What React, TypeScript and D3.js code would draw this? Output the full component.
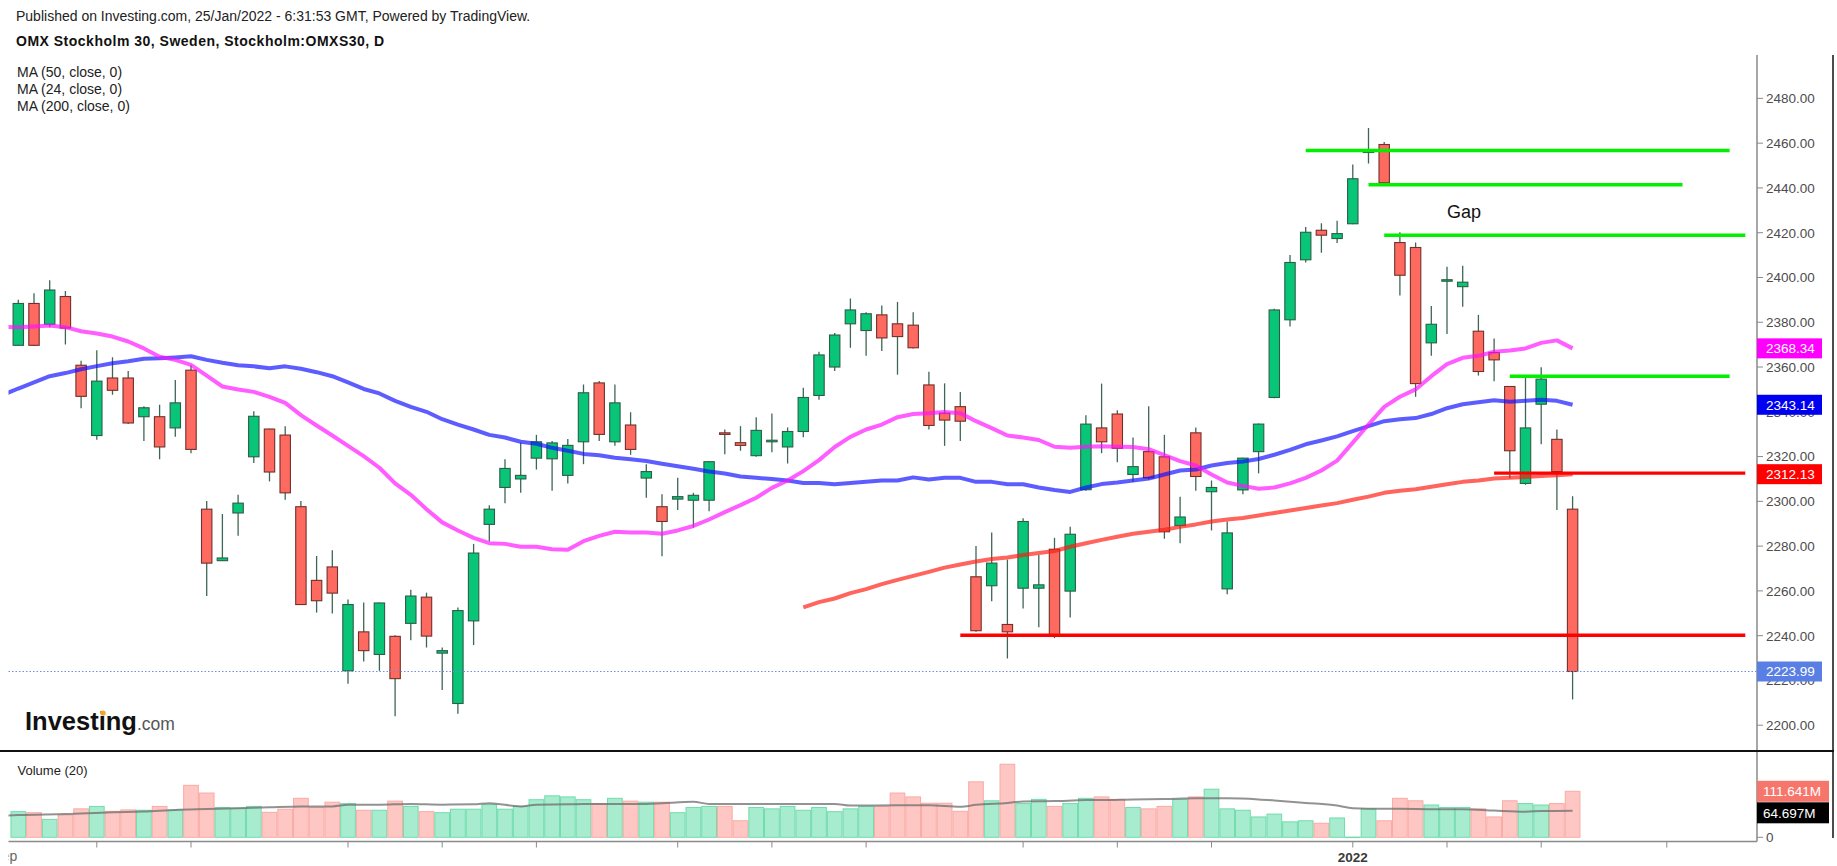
import React, { useEffect, useRef } from "react";
import * as d3 from "d3";

// OMX Stockholm 30, daily candles, 2 Sep 2021 - 24 Jan 2022 (index 0..99)
const opens = [
  2369.7, 2388.4, 2379.1, 2391.5, 2360.8, 2329.4, 2355.1, 2355.1, 2337.8, 2337.8,
  2332.8, 2358.6, 2296.5, 2273.5, 2294.8, 2319.9, 2332.3, 2329.6, 2297.6, 2264.7,
  2270.7, 2224.3, 2241.7, 2231.6, 2239.7, 2245.5, 2257.2, 2232.2, 2209.7, 2246.6,
  2289.7, 2306.2, 2310.0, 2319.3, 2319.0, 2311.6, 2326.6, 2352.9, 2326.6, 2334.1,
  2310.4, 2297.6, 2301.0, 2300.5, 2300.5, 2330.6, 2326.2, 2320.4, 2326.6, 2324.3,
  2331.2, 2347.3, 2360.0, 2379.3, 2376.3, 2383.3, 2379.3, 2378.7, 2352.0, 2339.4,
  2342.3, 2266.3, 2262.3, 2245.0, 2261.2, 2261.2, 2278.6, 2259.9, 2305.2, 2332.8,
  2339.0, 2312.0, 2322.2, 2319.9, 2289.2, 2330.6, 2304.3, 2260.9, 2305.1, 2322.2,
  2346.4, 2381.1, 2407.9, 2421.1, 2417.4, 2424.0, 2456.0, 2459.4, 2415.6, 2413.4,
  2370.8, 2398.6, 2395.9, 2376.0, 2366.5, 2351.3, 2308.0, 2343.4, 2327.7, 2296.5,
];
const highs = [
  2390.0, 2393.0, 2398.8, 2394.0, 2362.8, 2367.5, 2364.4, 2358.2, 2342.5, 2343.1,
  2354.2, 2360.8, 2300.1, 2294.3, 2302.9, 2340.3, 2332.5, 2333.6, 2300.1, 2275.6,
  2278.2, 2256.1, 2254.8, 2254.8, 2240.2, 2260.5, 2259.2, 2234.7, 2252.6, 2281.0,
  2298.3, 2318.8, 2326.2, 2329.7, 2327.0, 2327.9, 2352.2, 2353.8, 2352.2, 2339.8,
  2316.6, 2303.2, 2310.5, 2303.8, 2318.0, 2332.1, 2333.6, 2337.6, 2339.2, 2333.0,
  2350.7, 2366.8, 2375.2, 2390.6, 2384.5, 2387.5, 2389.1, 2384.5, 2357.9, 2352.7,
  2348.9, 2280.0, 2286.1, 2274.0, 2292.5, 2276.0, 2283.7, 2288.6, 2338.5, 2352.6,
  2340.7, 2328.5, 2342.5, 2329.7, 2302.1, 2333.0, 2309.3, 2291.0, 2319.5, 2334.8,
  2386.0, 2410.1, 2422.5, 2424.2, 2425.3, 2450.5, 2466.8, 2460.5, 2420.2, 2415.6,
  2387.3, 2404.8, 2405.2, 2383.3, 2372.7, 2351.5, 2355.3, 2359.9, 2332.1, 2302.3,
];
const lows = [
  2369.4, 2369.4, 2377.8, 2370.1, 2341.6, 2327.5, 2347.6, 2334.5, 2327.0, 2318.8,
  2328.8, 2321.5, 2257.7, 2273.3, 2284.6, 2317.1, 2308.9, 2300.7, 2253.7, 2250.3,
  2249.9, 2218.5, 2228.5, 2224.3, 2204.0, 2238.0, 2234.7, 2215.7, 2205.1, 2235.8,
  2282.2, 2299.2, 2303.8, 2314.2, 2304.7, 2308.0, 2316.6, 2327.0, 2324.8, 2320.8,
  2301.6, 2275.5, 2296.1, 2288.3, 2295.6, 2321.0, 2322.6, 2319.9, 2321.9, 2316.9,
  2328.6, 2345.4, 2358.2, 2368.6, 2365.0, 2367.2, 2356.6, 2368.3, 2332.1, 2324.8,
  2327.0, 2241.7, 2255.4, 2229.8, 2252.1, 2243.7, 2238.9, 2248.1, 2304.7, 2321.5,
  2317.5, 2308.7, 2309.8, 2283.3, 2281.3, 2304.7, 2287.0, 2258.5, 2303.2, 2312.5,
  2346.0, 2378.1, 2406.7, 2411.0, 2415.4, 2423.8, 2450.9, 2442.0, 2392.0, 2346.7,
  2365.0, 2374.7, 2386.9, 2356.2, 2353.7, 2310.2, 2307.4, 2325.5, 2296.1, 2211.5,
];
const closes = [
  2388.4, 2369.7, 2394.4, 2377.4, 2346.9, 2353.7, 2349.6, 2335.0, 2341.8, 2324.3,
  2344.0, 2323.2, 2272.4, 2274.7, 2299.2, 2338.0, 2313.1, 2303.8, 2253.9, 2255.6,
  2259.0, 2253.9, 2233.3, 2254.6, 2220.8, 2257.7, 2239.8, 2233.3, 2251.2, 2276.9,
  2296.5, 2314.7, 2311.6, 2326.6, 2326.1, 2325.0, 2348.5, 2329.9, 2344.0, 2323.2,
  2313.3, 2291.0, 2302.1, 2302.7, 2317.7, 2329.9, 2325.0, 2331.7, 2327.3, 2331.2,
  2346.4, 2365.4, 2374.3, 2385.5, 2383.8, 2373.0, 2373.6, 2368.6, 2333.9, 2336.3,
  2335.8, 2242.2, 2272.4, 2241.7, 2291.0, 2262.7, 2240.4, 2285.3, 2334.5, 2326.6,
  2323.7, 2315.5, 2310.5, 2286.4, 2293.0, 2311.1, 2306.2, 2285.9, 2319.3, 2334.5,
  2385.5, 2406.7, 2420.2, 2418.9, 2419.6, 2444.1, 2456.5, 2442.3, 2401.0, 2352.6,
  2379.1, 2399.0, 2397.9, 2358.0, 2363.2, 2322.6, 2332.8, 2354.6, 2313.3, 2223.99,
];
// volume in millions
const volumes = [
  62.2, 59.7, 43.5, 53.7, 69.0, 75.0, 63.1, 66.5, 65.6, 75.0,
  66.5, 126.1, 107.4, 72.4, 70.7, 75.0, 60.5, 68.2, 94.6, 72.4,
  85.2, 81.8, 65.6, 65.6, 87.8, 75.0, 62.2, 59.7, 68.2, 68.2,
  79.3, 68.2, 75.0, 91.2, 100.6, 98.0, 91.2, 81.8, 94.6, 87.8,
  85.2, 85.2, 59.7, 72.4, 75.0, 75.0, 40.1, 72.4, 69.0, 75.0,
  65.6, 72.4, 62.2, 69.0, 75.0, 75.0, 107.4, 98.0, 82.7, 82.7,
  63.1, 134.6, 88.6, 177.3, 81.8, 92.0, 75.0, 81.8, 94.6, 98.0,
  92.0, 72.4, 69.0, 75.0, 92.0, 98.0, 116.7, 69.0, 65.6, 49.4,
  56.2, 37.5, 40.1, 34.1, 46.9, 0.5, 69.0, 40.1, 94.6, 88.6,
  78.4, 72.4, 72.4, 69.0, 49.4, 88.6, 81.8, 78.4, 81.8, 111.641,
];

// moving averages as shown (start index given for each)
const ma50Start = -1;
const ma50 = [
  2347.5, 2350.4, 2353.1, 2355.9, 2357.3, 2359.0, 2360.4, 2361.7, 2362.6, 2363.7,
  2363.9, 2364.3, 2364.8, 2363.2, 2361.9, 2360.8, 2360.3, 2359.5, 2360.3, 2359.2,
  2357.7, 2355.9, 2353.1, 2350.2, 2348.2, 2344.9, 2342.2, 2340.0, 2336.7, 2334.3,
  2332.1, 2329.7, 2328.5, 2326.6, 2325.7, 2323.9, 2322.6, 2321.2, 2320.6, 2319.5,
  2318.8, 2318.0, 2316.8, 2315.7, 2314.6, 2313.3, 2312.4, 2311.1, 2310.5, 2310.0,
  2309.3, 2308.2, 2308.2, 2307.6, 2308.2, 2308.7, 2309.3, 2309.3, 2310.7, 2309.8,
  2310.5, 2310.5, 2308.7, 2308.7, 2307.6, 2307.6, 2306.2, 2305.1, 2304.2, 2306.2,
  2307.7, 2308.4, 2309.3, 2310.2, 2312.0, 2313.8, 2314.2, 2316.0, 2317.1, 2317.8,
  2318.9, 2320.8, 2323.0, 2325.5, 2327.2, 2329.0, 2331.4, 2333.6, 2335.8, 2336.7,
  2337.2, 2339.0, 2341.6, 2343.4, 2344.3, 2345.2, 2344.5, 2344.9, 2345.4, 2344.9,
  2343.14,
];
const ma24Start = -1;
const ma24 = [
  2378.0, 2377.8, 2378.1, 2378.5, 2377.8, 2376.0, 2375.0, 2373.6, 2371.4, 2368.3,
  2364.6, 2363.2, 2361.0, 2356.2, 2351.3, 2350.0, 2348.9, 2346.7, 2344.0, 2338.5,
  2333.9, 2329.4, 2324.8, 2320.2, 2315.0, 2308.0, 2302.9, 2296.5, 2290.6, 2287.0,
  2283.7, 2281.3, 2281.0, 2279.7, 2279.7, 2278.6, 2278.4, 2282.2, 2284.6, 2286.4,
  2286.1, 2286.1, 2285.5, 2287.0, 2289.0, 2291.9, 2295.2, 2298.3, 2301.6, 2306.0,
  2309.3, 2313.5, 2318.4, 2324.3, 2328.8, 2332.1, 2334.3, 2337.6, 2339.0, 2339.4,
  2339.9, 2339.4, 2335.8, 2332.7, 2329.4, 2328.5, 2327.4, 2324.4, 2323.9, 2324.4,
  2324.6, 2324.4, 2324.3, 2323.3, 2320.6, 2318.0, 2316.0, 2312.0, 2308.4, 2306.9,
  2305.6, 2306.2, 2308.0, 2310.5, 2313.8, 2318.2, 2326.2, 2334.3, 2342.2, 2346.7,
  2350.0, 2355.9, 2361.3, 2364.1, 2365.0, 2366.8, 2367.4, 2368.3, 2370.8, 2371.9,
  2368.34,
];
const ma200Start = 50;
const ma200 = [
  2252.6, 2255.0, 2256.6, 2259.0, 2260.8, 2263.0, 2264.9, 2266.7, 2268.5, 2270.4,
  2271.8, 2273.1, 2274.2, 2274.9, 2276.0, 2276.9, 2277.8, 2279.7, 2281.3, 2282.8,
  2284.2, 2285.5, 2286.4, 2287.3, 2288.6, 2289.7, 2291.0, 2291.9, 2292.6, 2293.7,
  2294.8, 2295.9, 2297.0, 2298.1, 2299.2, 2300.7, 2302.1, 2303.8, 2304.7, 2305.4,
  2306.5, 2307.6, 2308.7, 2309.3, 2310.2, 2310.5, 2310.9, 2311.3, 2311.6, 2312.13,
];
// volume MA(20), read at these candle indices
const volMaIdx = [
  -1, 0, 3, 6, 8, 10, 12, 14, 16, 18, 20, 21, 23, 25, 27, 29, 30, 32, 33, 35,
  36, 40, 41, 43, 44, 52, 53, 56, 58, 60, 61, 63, 64, 66, 68, 69, 71, 73, 75, 77,
  79, 80, 82, 84, 85, 87, 88, 90, 92, 94, 96, 97, 99,
];
const volMa = [
  52.0, 54.0, 56.5, 61.0, 62.5, 66.5, 68.5, 70.5, 73.0, 75.0, 75.0, 79.0, 79.3, 81.0, 79.3, 80.0, 82.7, 75.0, 79.3, 80.1,
  81.0, 81.0, 82.7, 86.1, 81.0, 81.0, 77.0, 77.5, 77.5, 74.1, 79.0, 83.5, 87.0, 87.8, 90.3, 90.3, 92.0, 92.9, 94.6, 94.6,
  92.0, 89.5, 83.5, 77.0, 70.7, 69.0, 69.0, 68.2, 68.2, 64.8, 62.2, 63.9, 64.697,
];

// drawn levels: price and the candle indices they run between
const greenLevels = [2456.7, 2441.4, 2418.9, 2355.9];
const greenFrom = [82, 86, 87, 95];
const greenTo = [109, 106, 110, 109];
const redLevels = [2312.6, 2240.2];
const redFrom = [94, 60];
const redTo = [110, 110];
const gapNote = { text: "Gap", index: 91, price: 2426.6 };

// time axis marks (candle index) and their labels
const timeTicks = [5, 11, 21, 27, 33, 42, 48, 54, 64, 70, 76, 85, 91, 97, 105];
const timeLabels = ["", "", "", "", "", "", "", "", "", "", "", "2022", "", "", ""];

const maLegend = ["MA (50, close, 0)", "MA (24, close, 0)", "MA (200, close, 0)"];

const FONT = "'Liberation Sans', Arial, Helvetica, sans-serif";
const W = 1837;
const H = 866;

export default function App() {
  const svgRef = useRef<SVGSVGElement>(null);

  useEffect(() => {
    if (!svgRef.current) return;
    const svg = d3.select(svgRef.current);
    svg.selectAll("*").remove();

    const plotLeft = 8.5;
    const axisX = 1757;
    const mainTop = 55;
    const mainBottom = 751;
    const volBottom = 841.5;

    const x = d3.scaleLinear().domain([0, 99]).range([18.3, 1572.6]);
    const y = d3.scaleLinear().domain([2200, 2480]).range([725.2, 98.4]);
    const v = d3.scaleLinear().domain([0, 111.641]).range([837.3, 791.3]);

    const defs = svg.append("defs");
    defs.append("clipPath").attr("id", "mainClip").append("rect")
      .attr("x", plotLeft).attr("y", mainTop)
      .attr("width", axisX - plotLeft).attr("height", mainBottom - mainTop);
    defs.append("clipPath").attr("id", "volClip").append("rect")
      .attr("x", plotLeft).attr("y", mainBottom + 1)
      .attr("width", axisX - plotLeft).attr("height", volBottom - mainBottom - 1);
    defs.append("clipPath").attr("id", "timeClip").append("rect")
      .attr("x", plotLeft).attr("y", volBottom)
      .attr("width", axisX - plotLeft).attr("height", H - volBottom);

    svg.append("rect").attr("width", W).attr("height", H).attr("fill", "#fff");

    const idx = d3.range(closes.length);
    const up = (i: number) => closes[i] >= opens[i];

    // volume pane
    const vg = svg.append("g").attr("clip-path", "url(#volClip)");
    const bw = x(1) - x(0);
    vg.selectAll("rect.vol")
      .data(idx)
      .join("rect")
      .attr("x", (i) => x(i) - bw / 2 + 0.5)
      .attr("width", bw - 1)
      .attr("y", (i) => v(volumes[i]))
      .attr("height", (i) => Math.max(0.5, v(0) - v(volumes[i])))
      .attr("fill", (i) => (up(i) ? "#a8ecd0" : "#ffc7c3"))
      .attr("stroke", (i) => (up(i) ? "#6fdcab" : "#f9aaa4"))
      .attr("stroke-width", 1);

    const volLine = d3
      .line<number>()
      .x((_, k) => x(volMaIdx[k]))
      .y((d) => v(d))
      .curve(d3.curveMonotoneX);
    vg.append("path")
      .datum(volMa)
      .attr("d", volLine)
      .attr("fill", "none")
      .attr("stroke", "#6e6e6e")
      .attr("stroke-opacity", 0.75)
      .attr("stroke-width", 2);

    // candles
    const cg = svg.append("g").attr("clip-path", "url(#mainClip)");
    cg.selectAll("line.wick")
      .data(idx)
      .join("line")
      .attr("x1", (i) => x(i))
      .attr("x2", (i) => x(i))
      .attr("y1", (i) => y(highs[i]))
      .attr("y2", (i) => y(lows[i]))
      .attr("stroke", "#3f6654")
      .attr("stroke-width", 1.3);
    cg.selectAll("rect.body")
      .data(idx)
      .join("rect")
      .attr("x", (i) => x(i) - 5.2)
      .attr("width", 10.4)
      .attr("y", (i) => y(Math.max(opens[i], closes[i])))
      .attr("height", (i) => Math.max(1.5, Math.abs(y(opens[i]) - y(closes[i]))))
      .attr("fill", (i) => (up(i) ? "#08c577" : "#ff6a60"))
      .attr("stroke", (i) => (up(i) ? "#2c5e47" : "#71302b"))
      .attr("stroke-width", 1.1);

    // moving averages
    const maLine = (start: number) =>
      d3
        .line<number>()
        .x((_, k) => x(start + k))
        .y((d) => y(d));
    const mas: [number[], number, string][] = [
      [ma200, ma200Start, "#ff1a10"],
      [ma50, ma50Start, "#1010ff"],
      [ma24, ma24Start, "#ff10ff"],
    ];
    mas.forEach(([vals, start, color]) => {
      cg.append("path")
        .datum(vals)
        .attr("d", maLine(start))
        .attr("fill", "none")
        .attr("stroke", color)
        .attr("stroke-opacity", 0.68)
        .attr("stroke-width", 4)
        .attr("stroke-linejoin", "round");
    });

    // drawn levels
    const levels = (prices: number[], from: number[], to: number[], color: string) => {
      cg.selectAll(null)
        .data(prices)
        .join("line")
        .attr("x1", (_, k) => x(from[k]))
        .attr("x2", (_, k) => x(to[k]))
        .attr("y1", (d) => y(d))
        .attr("y2", (d) => y(d))
        .attr("stroke", color)
        .attr("stroke-width", 3.4);
    };
    levels(greenLevels, greenFrom, greenTo, "#00f000");
    levels(redLevels, redFrom, redTo, "#ff0000");

    cg.append("text")
      .attr("x", x(gapNote.index))
      .attr("y", y(gapNote.price))
      .attr("font-family", FONT)
      .attr("font-size", 18)
      .attr("fill", "#111")
      .text(gapNote.text);

    // last price dotted line
    const last = closes[closes.length - 1];
    svg.append("line")
      .attr("x1", plotLeft)
      .attr("x2", axisX)
      .attr("y1", y(last))
      .attr("y2", y(last))
      .attr("stroke", "#6c8ce6")
      .attr("stroke-width", 1)
      .attr("stroke-dasharray", "1.5,2");

    // price axis
    svg.append("line")
      .attr("x1", axisX).attr("x2", axisX)
      .attr("y1", mainTop).attr("y2", volBottom)
      .attr("stroke", "#8a8a8a").attr("stroke-width", 1.5);
    const fmt = d3.format(".2f");
    const ticks = y.ticks(14);
    svg.selectAll("line.ptick")
      .data(ticks)
      .join("line")
      .attr("x1", axisX).attr("x2", axisX + 6)
      .attr("y1", (d) => y(d)).attr("y2", (d) => y(d))
      .attr("stroke", "#8a8a8a");
    svg.selectAll("text.plabel")
      .data(ticks)
      .join("text")
      .attr("x", axisX + 9)
      .attr("y", (d) => y(d))
      .attr("dy", "0.36em")
      .attr("font-family", FONT)
      .attr("font-size", 13.5)
      .attr("fill", "#4d4d4d")
      .text((d) => fmt(d));

    // value tags on the price axis (drawn over the tick labels, as in TradingView)
    const tags: [number, string][] = [
      [ma24[ma24.length - 1], "#ff00ff"],
      [ma50[ma50.length - 1], "#0000f0"],
      [ma200[ma200.length - 1], "#ff0000"],
      [last, "#5a7fe4"],
    ];
    tags.forEach(([val, color]) => {
      const ty = y(val);
      svg.append("rect")
        .attr("x", axisX).attr("y", ty - 10)
        .attr("width", 65).attr("height", 20)
        .attr("fill", color);
      svg.append("text")
        .attr("x", axisX + 9).attr("y", ty).attr("dy", "0.36em")
        .attr("font-family", FONT).attr("font-size", 13.5)
        .attr("fill", "#fff")
        .text(fmt(val));
    });

    // volume axis
    svg.append("line")
      .attr("x1", axisX).attr("x2", axisX + 6)
      .attr("y1", v(0)).attr("y2", v(0))
      .attr("stroke", "#8a8a8a");
    svg.append("text")
      .attr("x", axisX + 9).attr("y", v(0)).attr("dy", "0.36em")
      .attr("font-family", FONT).attr("font-size", 13.5).attr("fill", "#4d4d4d")
      .text("0");
    const volTags: [number, string][] = [
      [volumes[volumes.length - 1], "#f6766c"],
      [volMa[volMa.length - 1], "#000000"],
    ];
    let prevBottom = -Infinity;
    volTags.forEach(([val, color]) => {
      const ty = Math.max(v(val), prevBottom + 11);
      prevBottom = ty + 10.5;
      svg.append("rect")
        .attr("x", axisX).attr("y", ty - 10.5)
        .attr("width", 72).attr("height", 21)
        .attr("fill", color);
      svg.append("text")
        .attr("x", axisX + 6).attr("y", ty).attr("dy", "0.36em")
        .attr("font-family", FONT).attr("font-size", 13.5)
        .attr("fill", "#fff")
        .text(d3.format(".3f")(val) + "M");
    });

    // time axis
    svg.append("line")
      .attr("x1", plotLeft).attr("x2", axisX)
      .attr("y1", volBottom).attr("y2", volBottom)
      .attr("stroke", "#8a8a8a").attr("stroke-width", 1.5);
    svg.selectAll("line.ttick")
      .data(timeTicks)
      .join("line")
      .attr("x1", (d) => x(d)).attr("x2", (d) => x(d))
      .attr("y1", volBottom).attr("y2", volBottom + 6)
      .attr("stroke", "#8a8a8a");
    svg.selectAll("text.tlabel")
      .data(timeTicks)
      .join("text")
      .attr("x", (d) => x(d))
      .attr("y", 862)
      .attr("text-anchor", "middle")
      .attr("font-family", FONT)
      .attr("font-size", 13.5)
      .attr("font-weight", "bold")
      .attr("fill", "#3a3a3a")
      .text((_, k) => timeLabels[k]);
    svg.append("text")
      .attr("clip-path", "url(#timeClip)")
      .attr("x", x(-0.85)).attr("y", 861)
      .attr("text-anchor", "middle")
      .attr("font-family", FONT).attr("font-size", 14).attr("fill", "#666")
      .text("Sep");

    // frame
    svg.append("line")
      .attr("x1", 0).attr("x2", 1834)
      .attr("y1", mainBottom).attr("y2", mainBottom)
      .attr("stroke", "#111").attr("stroke-width", 2);
    svg.append("line")
      .attr("x1", 1833).attr("x2", 1833)
      .attr("y1", mainTop).attr("y2", 838)
      .attr("stroke", "#111").attr("stroke-width", 1.5);

    // header
    svg.append("text")
      .attr("x", 16).attr("y", 21)
      .attr("font-family", FONT).attr("font-size", 14).attr("fill", "#222")
      .text("Published on Investing.com, 25/Jan/2022 - 6:31:53 GMT, Powered by TradingView.");
    svg.append("text")
      .attr("x", 16).attr("y", 46)
      .attr("font-family", FONT).attr("font-size", 14).attr("font-weight", "bold")
      .attr("letter-spacing", 0.5).attr("fill", "#111")
      .text("OMX Stockholm 30, Sweden, Stockholm:OMXS30, D");
    svg.selectAll("text.legend")
      .data(maLegend)
      .join("text")
      .attr("x", 17)
      .attr("y", (_, k) => 77 + k * 17)
      .attr("font-family", FONT)
      .attr("font-size", 14)
      .attr("fill", "#222")
      .text((d) => d);
    svg.append("text")
      .attr("x", 17.5).attr("y", 775)
      .attr("font-family", FONT).attr("font-size", 13).attr("fill", "#222")
      .text("Volume (20)");

    // watermark
    const logo = svg.append("text").attr("x", 25).attr("y", 730).attr("font-family", FONT);
    logo.append("tspan").attr("font-size", 25.5).attr("font-weight", "bold").attr("fill", "#111")
      .text("Investing");
    logo.append("tspan").attr("font-size", 17.5).attr("fill", "#555").text(".com");
    const logoNode = logo.node() as SVGTextElement;
    try {
      const a = logoNode.getSubStringLength(0, 6);
      const b = logoNode.getSubStringLength(6, 1);
      svg.append("circle")
        .attr("cx", 25 + a + b / 2 + 0.8).attr("cy", 713)
        .attr("r", 2.6).attr("fill", "#f5a623");
    } catch (e) {
      // measurement not available
    }
  }, []);

  return (
    <div style={{ position: "absolute", left: 0, top: 0, background: "#fff" }}>
      <svg ref={svgRef} width={W} height={H} style={{ display: "block" }} />
    </div>
  );
}
